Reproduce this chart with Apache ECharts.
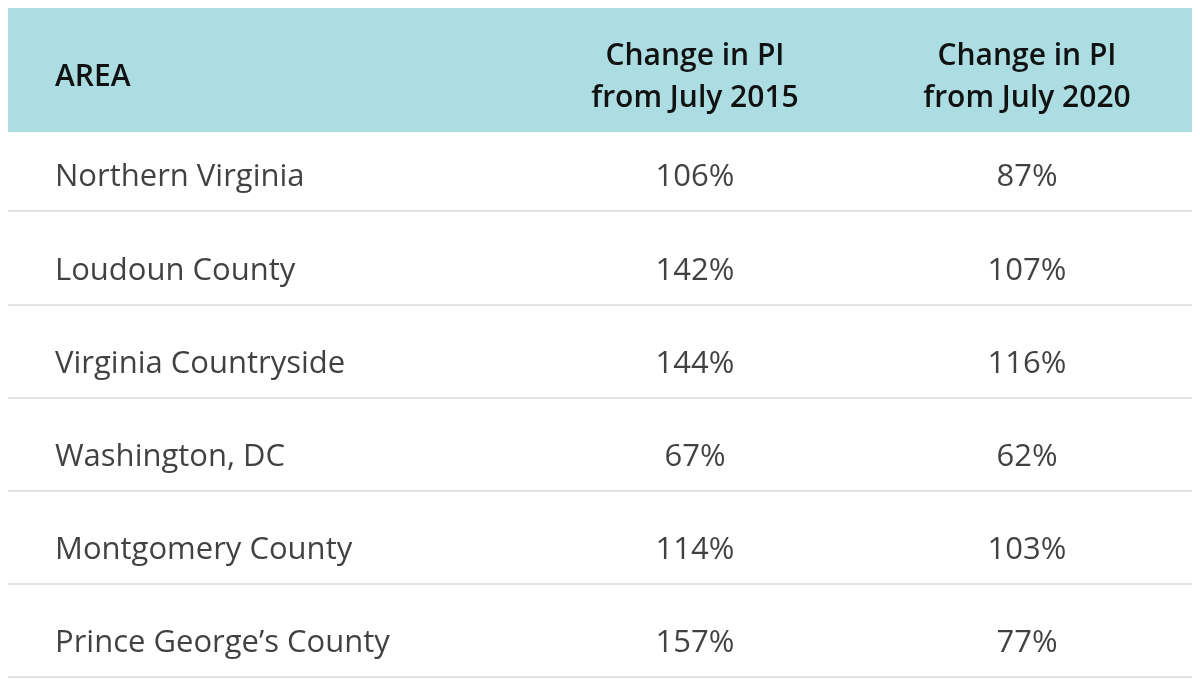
<!DOCTYPE html>
<html>
<head>
<meta charset="utf-8">
<script src="https://cdn.jsdelivr.net/npm/echarts@6/dist/echarts.min.js"></script>
<style>html,body{margin:0;padding:0;background:#fff}#main{width:1200px;height:688px}</style>
</head>
<body>
<div id="main"></div>
<script>
	var areas = ['Northern Virginia', 'Loudoun County', 'Virginia Countryside', 'Washington, DC', 'Montgomery County', 'Prince George\u2019s County'];
	var change2015 = [106, 142, 144, 67, 114, 157];
	var change2020 = [87, 107, 116, 62, 103, 77];
	var headers = ['AREA', 'Change in PI\nfrom July 2015', 'Change in PI\nfrom July 2020'];
	var colX = [55, 695, 1027];

	var font = '"Open Sans", sans-serif';
	var chart = echarts.init(document.getElementById('main'));

	function cells(col, vals, fmt, align){
		return {
			type: 'scatter', symbolSize: 0, silent: true,
			data: vals.map(function(v, i){ return [colX[col], areas[i], fmt(v)]; }),
			label: { show: true, position: 'inside', offset: [0, 13], align: align,
				formatter: function(p){ return p.data[2]; },
				fontFamily: font, fontSize: 31, color: '#111' }
		};
	}

	chart.setOption({
		animation: false,
		grid: { left: 8, right: 8, top: 118, bottom: 11 },
		xAxis: { type: 'value', min: 8, max: 1192, show: false },
		yAxis: { type: 'category', inverse: true, data: areas,
			axisLine: { show: false }, axisTick: { show: false }, axisLabel: { show: false },
			splitLine: { show: true, lineStyle: { color: '#e2e2e2', width: 2 } } },
		graphic: [
			{ type: 'rect', shape: { x: 8, y: 8, width: 1184, height: 124 }, style: { fill: '#abdde3' }, z: 100 }
		].concat(headers.map(function(h, i){
			return { type: 'text', x: colX[i], y: 77, z: 101,
				style: { text: h, fontFamily: font, fontWeight: 600, fontSize: 30, lineHeight: 42,
					fill: '#111', align: i === 0 ? 'left' : 'center', verticalAlign: 'middle' } };
		})),
		series: [
			cells(0, areas, function(v){ return v; }, 'left'),
			cells(1, change2015, function(v){ return v + '%'; }, 'center'),
			cells(2, change2020, function(v){ return v + '%'; }, 'center')
		]
	});
</script>
</body>
</html>
